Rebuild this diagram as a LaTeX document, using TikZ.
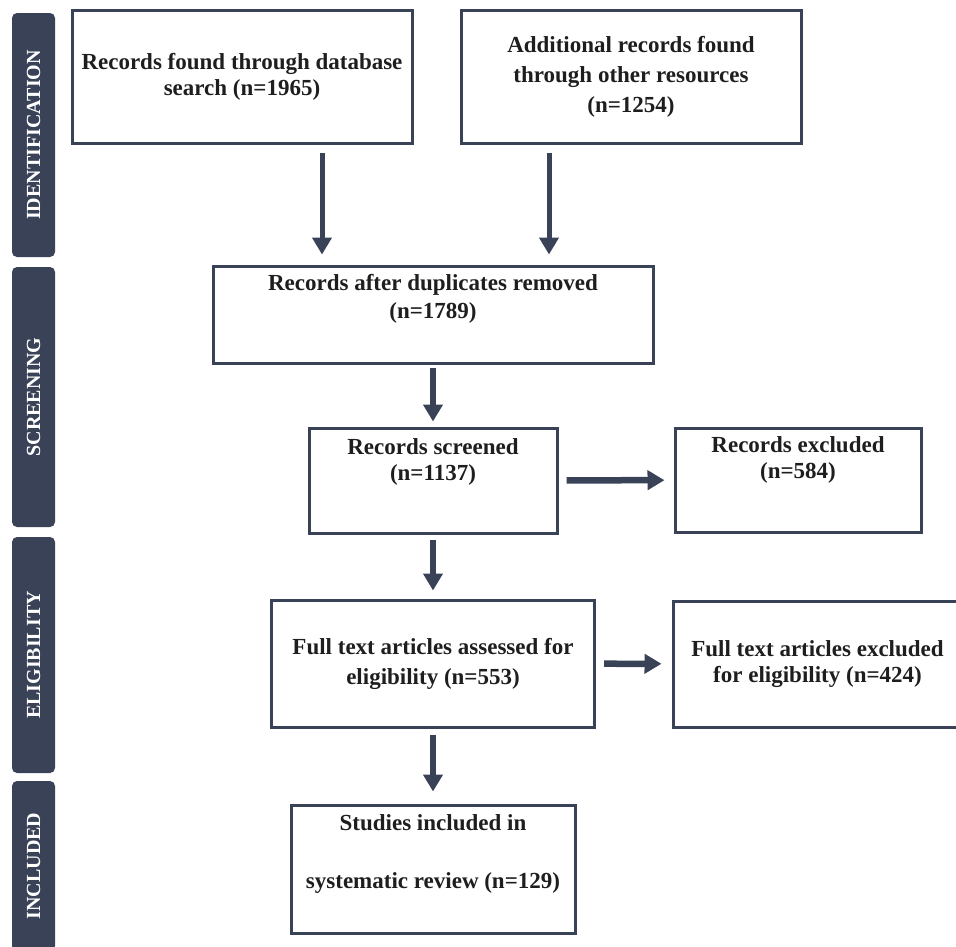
\documentclass[tikz,border=0pt]{standalone}
\usepackage{fontspec}
\setmainfont{Liberation Serif}
\usetikzlibrary{positioning,arrows.meta}
\definecolor{navy}{RGB}{58,66,88}
\definecolor{ink}{RGB}{30,30,30}

\begin{document}
\begin{tikzpicture}[x=1pt, y=1pt, font=\bfseries\fontsize{23}{26}\selectfont,
		box/.style={draw=navy, line width=3pt, align=center, text=ink, inner sep=0pt},
		phase/.style={fill=navy, rounded corners=5pt, rotate=90, minimum height=43pt, inner sep=0pt, text=white, font=\bfseries\fontsize{20}{20}\selectfont},
		arr/.style={draw=navy, line width=6.5pt, -{Triangle[length=17pt,width=19pt]}}]
				\useasboundingbox (0,0) rectangle (956,-946);
				\node[phase, minimum width=244pt] (ident) at (33.5,-135) {IDENTIFICATION};
				\node[phase, minimum width=260pt] (screen) at (33.5,-397) {SCREENING};
				\node[phase, minimum width=236pt] (elig) at (33.5,-655) {ELIGIBILITY};
				\node[phase, minimum width=170pt] (incl) at (33.5,-866) {INCLUDED};
				
				\node[box, minimum width=340pt, minimum height=133pt] (db) at (242,-76.5) {Records found through database\\search (n=1965)};
				\node[box, minimum width=340pt, minimum height=133pt] (other) at (631,-76.5) {Additional records found\\[4pt]through other resources\\[4pt](n=1254)};
				\node[box, minimum width=440pt, minimum height=97pt, text depth=36pt] (dup) at (433,-314.5) {Records after duplicates removed\\[2pt](n=1789)};
				\node[box, minimum width=248pt, minimum height=105pt, text depth=42pt] (scr) at (433,-480.5) {Records screened\\(n=1137)};
				\node[box, minimum width=246pt, minimum height=104pt, text depth=44pt] (exc) at (798,-480) {Records excluded\\(n=584)};
				\node[box, minimum width=323pt, minimum height=127pt] (full) at (433,-663.5) {Full text articles assessed for\\[4pt]eligibility (n=553)};
				\node[box, minimum width=289pt, minimum height=126pt] (excfull) at (817.5,-664) {Full text articles excluded\\for eligibility (n=424)};
				\node[box, minimum width=284pt, minimum height=128pt, text depth=35pt] (inc) at (433,-869) {Studies included in\\[32pt]systematic review (n=129)};
				
				\draw[arr, line width=5pt, shorten <=8pt, shorten >=10pt] ([xshift=80pt]db.south) -- ([xshift=80pt]db.south |- dup.north);
				\draw[arr, line width=5pt, shorten <=8pt, shorten >=10pt] ([xshift=-82pt]other.south) -- ([xshift=-82pt]other.south |- dup.north);
				\draw[arr, shorten <=3pt, shorten >=5pt] (dup) -- (scr);
				\draw[arr, shorten <=8pt, shorten >=9pt] (scr) -- (exc);
				\draw[arr, shorten <=5pt, shorten >=8pt] (scr) -- (full);
				\draw[arr, shorten <=8pt, shorten >=10pt] (full) -- (excfull);
				\draw[arr, shorten <=6pt, shorten >=12pt] (full) -- (inc);
			\end{tikzpicture}
\end{document}
